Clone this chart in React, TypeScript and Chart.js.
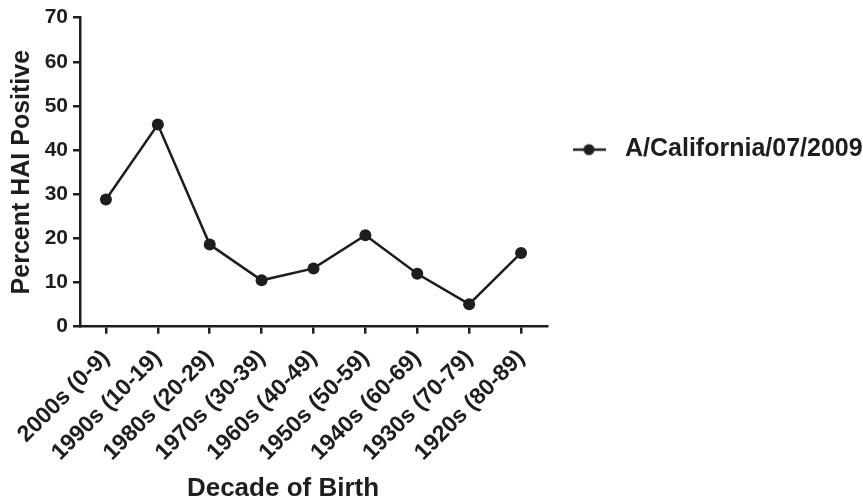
import React, { useEffect, useRef } from 'react';
import { Chart, registerables } from 'chart.js';

Chart.register(...registerables);

// ---- data ----
const categories = [
  '2000s (0-9)',
  '1990s (10-19)',
  '1980s (20-29)',
  '1970s (30-39)',
  '1960s (40-49)',
  '1950s (50-59)',
  '1940s (60-69)',
  '1930s (70-79)',
  '1920s (80-89)',
];
const values = [28.8, 45.8, 18.6, 10.5, 13.2, 20.7, 12.0, 5.1, 16.7];
const seriesName = 'A/California/07/2009';
const yMin = 0;
const yMax = 70;
const yStep = 10;
const yAxisTitle = 'Percent HAI Positive';
const xAxisTitle = 'Decade of Birth';

// ---- style ----
const FONT = '"Liberation Sans", Arial, Helvetica, sans-serif';
const INK = '#1e1e1e';

function makeLegendSymbol(): HTMLCanvasElement {
  const c = document.createElement('canvas');
  c.width = 33;
  c.height = 14;
  const g = c.getContext('2d') as CanvasRenderingContext2D;
  g.strokeStyle = INK;
  g.lineWidth = 2.5;
  g.beginPath();
  g.moveTo(0, 7);
  g.lineTo(33, 7);
  g.stroke();
  g.fillStyle = INK;
  g.beginPath();
  g.arc(16.5, 7, 5.5, 0, Math.PI * 2);
  g.fill();
  return c;
}

const xTitlePlugin = {
  id: 'xTitleOffset',
  afterDraw(chart: any) {
    const { ctx, chartArea } = chart;
    ctx.save();
    ctx.font = `bold 26px ${FONT}`;
    ctx.fillStyle = INK;
    ctx.textAlign = 'center';
    ctx.textBaseline = 'middle';
    ctx.fillText(xAxisTitle, (chartArea.left + chartArea.right) / 2 - 30.5, chart.height - 12);
    ctx.restore();
  },
};

export default function App() {
  const ref = useRef<HTMLCanvasElement | null>(null);

  useEffect(() => {
    document.body.style.margin = '0';
    const canvas = ref.current;
    if (!canvas) return;
    const symbol = makeLegendSymbol();

    const chart = new Chart(canvas, {
      type: 'line',
      data: {
        labels: categories,
        datasets: [
          {
            label: seriesName,
            data: values,
            borderColor: INK,
            backgroundColor: INK,
            borderWidth: 2.5,
            pointRadius: 6,
            pointBackgroundColor: INK,
            pointBorderColor: INK,
            pointBorderWidth: 0,
            tension: 0,
            fill: false,
          },
        ],
      },
      options: {
        responsive: false,
        animation: false,
        devicePixelRatio: 1,
        layout: { padding: { top: 16, right: 0, bottom: 0, left: 0 } },
        plugins: {
          tooltip: { enabled: false },
          legend: {
            position: 'right',
            align: 'start',
            fullSize: false,
            maxWidth: 316,
            title: { display: true, text: '', padding: { top: 86.6, bottom: 0 }, font: { size: 12 } },
            labels: {
              usePointStyle: true,
              pointStyleWidth: 47,
              padding: 18.5,
              color: INK,
              font: { family: FONT, size: 25, weight: 'bold' },
              generateLabels: () => [
                {
                  text: seriesName,
                  pointStyle: symbol,
                  fillStyle: INK,
                  strokeStyle: INK,
                  lineWidth: 0,
                  hidden: false,
                  datasetIndex: 0,
                  fontColor: INK,
                } as any,
              ],
            },
          },
        },
        scales: {
          x: {
            type: 'category',
            offset: true,
            grid: {
              display: true,
              drawOnChartArea: false,
              drawTicks: true,
              tickLength: 7,
              color: INK,
              lineWidth: 2.5,
              offset: false,
            },
            border: { display: true, color: INK, width: 2.5 },
            ticks: {
              autoSkip: false,
              minRotation: 45,
              maxRotation: 45,
              padding: 11,
              color: INK,
              font: { family: FONT, size: 23, weight: 'bold' },
            },
            afterFit: (s: any) => {
              s.height = 174.3;
            },
          },
          y: {
            min: yMin,
            max: yMax,
            grid: {
              display: true,
              drawOnChartArea: false,
              drawTicks: true,
              tickLength: 7,
              color: INK,
              lineWidth: 2.5,
            },
            border: { display: true, color: INK, width: 2.5 },
            ticks: {
              stepSize: yStep,
              padding: 5,
              color: INK,
              font: { family: FONT, size: 21, weight: 'bold' },
            },
            title: {
              display: true,
              text: yAxisTitle,
              color: INK,
              font: { family: FONT, size: 25, weight: 'bold' },
              padding: { top: 7.5, bottom: 0 },
            },
            afterFit: (s: any) => {
              s.width = 80;
            },
          },
        },
      },
      plugins: [xTitlePlugin],
    } as any);

    return () => chart.destroy();
  }, []);

  return (
    <div style={{ width: 863, height: 501, background: '#fff' }}>
      <canvas ref={ref} width={863} height={501} style={{ display: 'block' }} />
    </div>
  );
}
